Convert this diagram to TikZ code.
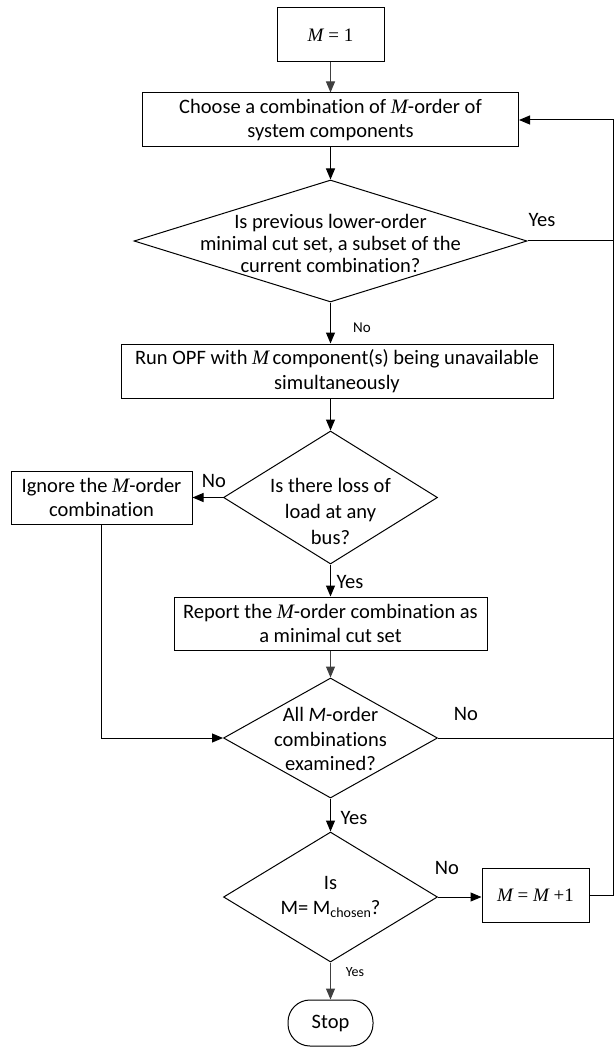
\documentclass[tikz,border=0pt]{standalone}
\usepackage{fontspec}
\setmainfont{Carlito}[Ligatures=NoCommon]
\newfontfamily\tmsfont{Liberation Serif}
\usetikzlibrary{shapes.geometric,arrows.meta}
\newcommand{\Mv}{{\tmsfont\itshape M}}
\definecolor{linegray}{HTML}{404040}

\begin{document}
\begin{tikzpicture}[x=1pt,y=-1pt,line width=1pt,
  every node/.style={font=\fontsize{20.5}{24.5}\selectfont},
  proc/.style={draw,rectangle,inner sep=0pt,align=center},
  dia/.style={draw,diamond,inner sep=0pt},
  dtext/.style={align=center,inner sep=0pt},
  lbl/.style={inner sep=0pt},
  small/.style={inner sep=0pt,font=\fontsize{15}{18}\selectfont},
  arr/.style={-{Triangle[length=11pt,width=9pt]}},
  garr/.style={arr,draw=linegray}]
\useasboundingbox (0,0) rectangle (614,1048);

% process boxes
\node[proc,minimum width=107,minimum height=54] (m1) at (330.5,35)
  {\fontsize{19}{22}\selectfont{\tmsfont\itshape M}{\tmsfont\ =\ 1}};
\node[proc,minimum width=376,minimum height=54] (choose) at (330.5,120)
  {Choose a combination of \Mv-order of\\system components};
\node[proc,minimum width=432,minimum height=54] (run) at (337,371)
  {Run OPF with \Mv\,component(s) being unavailable\\simultaneously};
\node[proc,minimum width=181,minimum height=53] (ign) at (101.5,497.5)
  {Ignore the \Mv-order\\combination};
\node[proc,minimum width=313,minimum height=53] (rep) at (330.5,623.5)
  {Report the \Mv-order combination as\\a minimal cut set};
\node[proc,minimum width=107,minimum height=54] (inc) at (535.5,895)
  {\fontsize{19}{22}\selectfont\tmsfont{\itshape M}\ =\ {\itshape M}\ +1};
\node[draw,rectangle,rounded corners=22pt,minimum width=85,minimum height=46,inner sep=0pt] (stop) at (330.5,1023) {Stop};

% decision diamonds
\node[dia,minimum width=393,minimum height=122] (d1) at (330.5,241) {};
\node[dtext,font=\fontsize{20.5}{22}\selectfont] at (330.5,243)
  {Is previous lower-order\\minimal cut set, a subset of the\\current combination?};
\node[dia,minimum width=214,minimum height=133] (d2) at (330.5,497.5) {};
\node[dtext,font=\fontsize{20.5}{26}\selectfont] at (330.5,511)
  {Is there loss of\\load at any\\bus?};
\node[dia,minimum width=214,minimum height=120] (d3) at (330.5,738) {};
\node[dtext] at (330.5,739)
  {All \textit{M}-order\\combinations\\examined?};
\node[dia,minimum width=214,minimum height=130] (d4) at (330.5,897) {};
\node[dtext] at (330.5,897)
  {Is\\M= M\raisebox{-0.35ex}{\fontsize{14}{14}\selectfont chosen}?};

\coordinate (rt) at (613,120);

% connectors
\draw[garr] (m1.south) -- (choose.north);
\draw[arr] (choose.south) -- (d1.north);
\draw[arr] (d1.south) -- (d1.south |- run.north);
\draw[arr] (d1.south |- run.south) -- (d2.north);
\draw[arr] (d2.west) -- (d2.west -| ign.east);
\draw[arr] (d2.south) -- (rep.north);
\draw[garr] (rep.south) -- (d3.north);
\draw[arr] (ign.south) -- (ign.south |- d3.west) -- (d3.west);
\draw[arr] (d3.south) -- (d4.north);
\draw[arr] (d4.east) -- (d4.east -| inc.west);
\draw[garr] (d4.south) -- (stop.north);
\draw (d1.east) -- (d1.east -| rt);
\draw (d3.east) -- (d3.east -| rt);
\draw[arr] (inc.east) -- (inc.east -| rt) -- (rt) -- (choose.east);

% branch labels
\node[lbl] at (542,220) {Yes};
\node[small] at (362,328) {No};
\node[lbl] at (214,481) {No};
\node[lbl] at (350,582) {Yes};
\node[lbl] at (466,714) {No};
\node[lbl] at (354,818) {Yes};
\node[lbl] at (447,868) {No};
\node[small,font=\fontsize{14}{16}\selectfont] at (355,972) {Yes};
\end{tikzpicture}
\end{document}
